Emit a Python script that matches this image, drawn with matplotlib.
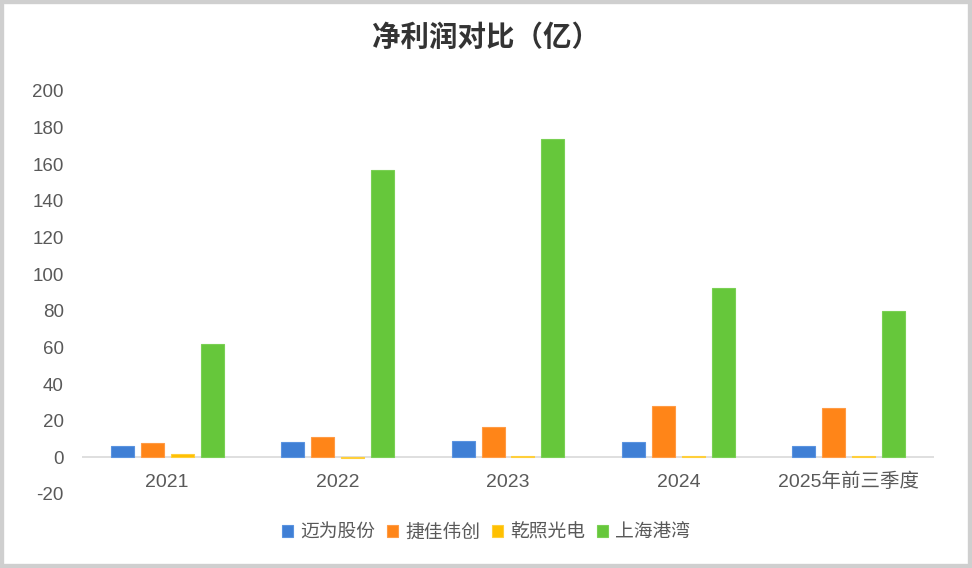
import numpy as np
import matplotlib.pyplot as plt
from matplotlib.patches import Rectangle

plt.rcParams['font.family'] = ['Liberation Sans', 'Noto Sans CJK SC', 'DejaVu Sans']

categories = ['2021', '2022', '2023', '2024', '2025年前三季度']
series_names = ['迈为股份', '捷佳伟创', '乾照光电', '上海港湾']
maiwei = [6.3, 8.4, 9.0, 8.5, 6.2]
jiejia = [7.6, 10.9, 16.5, 27.8, 27.0]
qianzhao = [2.0, -0.6, 0.9, 1.0, 0.8]
shanghai = [61.8, 156.8, 173.9, 92.7, 79.7]
yticks = list(range(-20, 201, 20))

colors = ['#3F7FD5', '#FF8518', '#FFC000', '#66C73B']
edges = ['#5A93E0', '#FF9B45', '#FFCF3A', '#7AD054']
txt = '#595959'

fig = plt.figure(figsize=(9.72, 5.68), dpi=100)
ax = fig.add_axes([82 / 972, 1 - 494 / 568, 852 / 972, 403 / 568])

x = np.arange(len(categories))
width = 0.135
step = 0.176
for i, (vals, name) in enumerate(zip([maiwei, jiejia, qianzhao, shanghai], series_names)):
    ax.bar(x + (i - 1.5) * step, vals, width, color=colors[i],
           edgecolor=edges[i], linewidth=0.8, label=name, zorder=3)

ax.set_xlim(-0.5, len(categories) - 0.5)
ax.set_ylim(-20, 200)
ax.set_yticks(yticks)
ax.set_yticklabels([str(t) for t in yticks])
ax.axhline(0, color='#D9D9D9', linewidth=1.2, zorder=2)
for s in ax.spines.values():
    s.set_visible(False)
ax.tick_params(axis='y', length=0, labelsize=13.5, colors=txt, pad=13)
ax.set_xticks([])
# category labels sit between the zero line and -20
for xi, c in zip(x, categories):
    ax.text(xi, -13.5, c, ha='center', va='center', fontsize=14, color=txt)

fig.text(0.5, 1 - 38 / 568, '净利润对比（亿）', ha='center', va='center',
         fontsize=20.5, fontweight='bold', color='#333333')

leg = fig.legend(loc='center', bbox_to_anchor=(0.5, 1 - 533 / 568), ncol=4,
                 frameon=False, fontsize=13.5, handlelength=0.6, handleheight=0.6,
                 handletextpad=0.4, columnspacing=0.6)
for t in leg.get_texts():
    t.set_color(txt)

fig.patches.append(Rectangle((0, 0), 1, 1, transform=fig.transFigure,
                             fill=False, edgecolor='#CFCFCF', linewidth=6))

fig.savefig('out.png', dpi=100)
